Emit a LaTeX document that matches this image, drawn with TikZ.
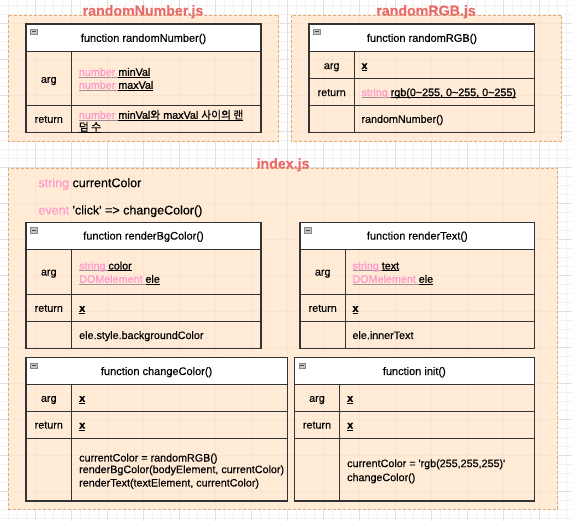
\documentclass[tikz,border=0pt]{standalone}
\usepackage{fontspec}
\setmainfont{Liberation Sans}[FakeBold=0.35]
\newfontfamily\ulfont{Liberation Sans}[FakeBold=1.1]
\newfontfamily\kr{Noto Sans CJK KR}[FakeBold=0.6]
\definecolor{pinktxt}{HTML}{FF99CC}
\definecolor{ulpink}{HTML}{A58A98}
\definecolor{titlered}{HTML}{EA6B66}
\definecolor{contfill}{HTML}{FFE6CC}
\definecolor{contdraw}{HTML}{E0AA75}
\definecolor{tline}{HTML}{333333}
\definecolor{gridminor}{HTML}{F2F2F2}
\definecolor{gridmajor}{HTML}{E0E0E0}
\definecolor{icongray}{HTML}{C4C4C4}
\definecolor{icondraw}{HTML}{8A8A8A}
\definecolor{icondark}{HTML}{4A4A4A}
\newcommand\ulc[2]{\setbox0\hbox{\ulfont #2}\rlap{\textcolor{#1}{\rule[-1.6pt]{\wd0}{0.7pt}}}\box0}
\newcommand\pk[1]{\textcolor{pinktxt}{#1}}
\newcommand\tabicon[2]{%
  \draw[fill=icongray,draw=icondraw,line width=0.5pt] (#1+4.7,#2+5.3) rectangle (#1+11.3,#2+10.7);
  \draw[line width=1pt,draw=icondark] (#1+6,#2+8) -- (#1+10,#2+8);}
\begin{document}
\begin{tikzpicture}[x=1pt,y=-1pt,
  tb/.style={draw=tline,line width=1.1pt},
  cell/.style={inner sep=0pt,text height=7.6pt,text depth=0pt,font=\fontsize{10.75}{12}\selectfont},
  lbl/.style={cell,anchor=center},
  val/.style={cell,anchor=west},
  hdr/.style={cell,anchor=center,font=\fontsize{11}{13}\selectfont},
  ttl/.style={inner sep=0pt,anchor=base,text=titlered,font=\bfseries\fontsize{14.2}{16}\selectfont},
  cont/.style={draw=contdraw,fill=contfill,fill opacity=0.8,line width=0.9pt,dash pattern=on 3pt off 2pt},
  big/.style={inner sep=0pt,anchor=west,text height=8.9pt,text depth=0pt,font=\fontsize{12.5}{14}\selectfont}]
\useasboundingbox (0,0) rectangle (572,521);
\fill[white] (0,0) rectangle (572,521);
% grid
\foreach \k in {0,...,63} \draw[gridminor,line width=0.7pt] ({9*\k-0.5},0) -- ({9*\k-0.5},521);
\foreach \k in {0,...,57} \draw[gridminor,line width=0.7pt] (0,{9*\k+5.5}) -- (572,{9*\k+5.5});
\foreach \k in {1,...,15} \draw[gridmajor,line width=0.8pt] ({36*\k-0.5},0) -- ({36*\k-0.5},521);
\foreach \k in {1,...,14} \draw[gridmajor,line width=0.8pt] (0,{36*\k-12.5}) -- (572,{36*\k-12.5});
% containers
\draw[cont] (8.3,15) rectangle (278.3,141.7);
\draw[cont] (291,15) rectangle (561.7,141.7);
\draw[cont] (8.3,168.3) rectangle (557.7,509);
\node[ttl] (c1t) at (143,15.5) {randomNumber.js};
\node[ttl] (c2t) at (426,15.5) {randomRGB.js};
\node[ttl] (c3t) at (283,168.5) {index.js};
% ---------- table 1
\fill[white] (26,24) rectangle (261,51.7);
\draw[tb] (26,24) rectangle (261,132.3);
\draw[tb] (26,51.7) -- (261,51.7);
\draw[tb] (26,105.7) -- (261,105.7);
\draw[tb] (71.7,51.7) -- (71.7,132.3);
\tabicon{26}{24}
\node[hdr] (t1h) at (143.5,38) {function randomNumber()};
\node[lbl] (t1a) at (48.8,79) {arg};
\node[lbl] (t1r) at (48.8,119) {return};
\node[val] (t1a1) at (78.7,72) {\ulc{ulpink}{\pk{number }}\ulc{black}{minVal}};
\node[val] (t1a2) at (78.7,85) {\ulc{ulpink}{\pk{number }}\ulc{black}{maxVal}};
\node[val] (t1r1) at (78.7,115) {\ulc{ulpink}{\pk{number }}\ulc{black}{minVal{\kr 와} maxVal {\kr 사이의 랜}}};
\node[val] (t1r2) at (78.7,127) {\ulc{black}{{\kr 덤 수}}};
% ---------- table 2
\fill[white] (309,24) rectangle (534.3,51.7);
\draw[tb] (309,24) rectangle (534.3,132.3);
\draw[tb] (309,51.7) -- (534.3,51.7);
\draw[tb] (309,78.7) -- (534.3,78.7);
\draw[tb] (309,105.7) -- (534.3,105.7);
\draw[tb] (354.3,51.7) -- (354.3,132.3);
\tabicon{309}{24}
\node[hdr] (t2h) at (422,38) {function randomRGB()};
\node[lbl] (t2a) at (331.7,65.3) {arg};
\node[lbl] (t2r) at (331.7,92.3) {return};
\node[val] (t2a1) at (361.3,65.3) {\ulc{black}{\textbf{x}}};
\node[val] (t2r1) at (361.3,92.3) {\ulc{ulpink}{\pk{string }}\ulc{black}{rgb(0\textasciitilde255, 0\textasciitilde255, 0\textasciitilde255)}};
\node[val] (t2b1) at (361.3,119) {randomNumber()};
% ---------- table 3
\fill[white] (26,222.3) rectangle (261,249.3);
\draw[tb] (26,222.3) rectangle (261,348.7);
\draw[tb] (26,249.3) -- (261,249.3);
\draw[tb] (26,294.3) -- (261,294.3);
\draw[tb] (26,321.7) -- (261,321.7);
\draw[tb] (71.7,249.3) -- (71.7,348.7);
\tabicon{26}{222.3}
\node[hdr] (t3h) at (143.5,235.8) {function renderBgColor()};
\node[lbl] (t3a) at (48.8,271.7) {arg};
\node[lbl] (t3r) at (48.8,308) {return};
\node[val] (t3a1) at (79,265.7) {\ulc{ulpink}{\pk{string }}\ulc{black}{color}};
\node[val] (t3a2) at (79,279) {\ulc{ulpink}{\pk{DOMelement }}\ulc{black}{ele}};
\node[val] (t3r1) at (79,308) {\ulc{black}{\textbf{x}}};
\node[val] (t3b1) at (79,335.2) {ele.style.backgroundColor};
% ---------- table 4
\fill[white] (300,222.3) rectangle (534.3,249.3);
\draw[tb] (300,222.3) rectangle (534.3,348.7);
\draw[tb] (300,249.3) -- (534.3,249.3);
\draw[tb] (300,294.3) -- (534.3,294.3);
\draw[tb] (300,321.7) -- (534.3,321.7);
\draw[tb] (345.3,249.3) -- (345.3,348.7);
\tabicon{300}{222.3}
\node[hdr] (t4h) at (417.3,235.8) {function renderText()};
\node[lbl] (t4a) at (322.7,271.7) {arg};
\node[lbl] (t4r) at (322.7,308) {return};
\node[val] (t4a1) at (352.3,265.7) {\ulc{ulpink}{\pk{string }}\ulc{black}{text}};
\node[val] (t4a2) at (352.3,279) {\ulc{ulpink}{\pk{DOMelement }}\ulc{black}{ele}};
\node[val] (t4r1) at (352.3,308) {\ulc{black}{\textbf{x}}};
\node[val] (t4b1) at (352.3,335.2) {ele.innerText};
% ---------- table 5
\fill[white] (26,357.7) rectangle (287.3,384.7);
\draw[tb] (26,357.7) rectangle (287.3,501);
\draw[tb] (26,384.7) -- (287.3,384.7);
\draw[tb] (26,411.3) -- (287.3,411.3);
\draw[tb] (26,438.3) -- (287.3,438.3);
\draw[tb] (71.7,384.7) -- (71.7,501);
\tabicon{26}{357.7}
\node[hdr] (t5h) at (156.6,371.2) {function changeColor()};
\node[lbl] (t5a) at (48.8,398) {arg};
\node[lbl] (t5r) at (48.8,424.8) {return};
\node[val] (t5a1) at (79,398) {\ulc{black}{\textbf{x}}};
\node[val] (t5r1) at (79,424.8) {\ulc{black}{\textbf{x}}};
\node[val] (t5b1) at (79,457.7) {currentColor = randomRGB()};
\node[val] (t5b2) at (79,469.3) {renderBgColor(bodyElement, currentColor)};
\node[val] (t5b3) at (79,482.7) {renderText(textElement, currentColor)};
% ---------- table 6
\fill[white] (294.3,357.7) rectangle (534.3,384.7);
\draw[tb] (294.3,357.7) rectangle (534.3,501);
\draw[tb] (294.3,384.7) -- (534.3,384.7);
\draw[tb] (294.3,411.3) -- (534.3,411.3);
\draw[tb] (294.3,438.3) -- (534.3,438.3);
\draw[tb] (339.7,384.7) -- (339.7,501);
\tabicon{294.3}{357.7}
\node[hdr] (t6h) at (414.3,371.2) {function init()};
\node[lbl] (t6a) at (317,398) {arg};
\node[lbl] (t6r) at (317,424.8) {return};
\node[val] (t6a1) at (347,398) {\ulc{black}{\textbf{x}}};
\node[val] (t6r1) at (347,424.8) {\ulc{black}{\textbf{x}}};
\node[val] (t6b1) at (347,463.3) {currentColor = \textquotesingle rgb(255,255,255)\textquotesingle};
\node[val] (t6b2) at (347,477.3) {changeColor()};
% ---------- free texts
\node[big] (cc) at (38.3,182.7) {\pk{string} currentColor};
\node[big] (ev) at (38.3,210) {\pk{event} \textquotesingle{}click\textquotesingle{} => changeColor()};
\end{tikzpicture}
\end{document}
